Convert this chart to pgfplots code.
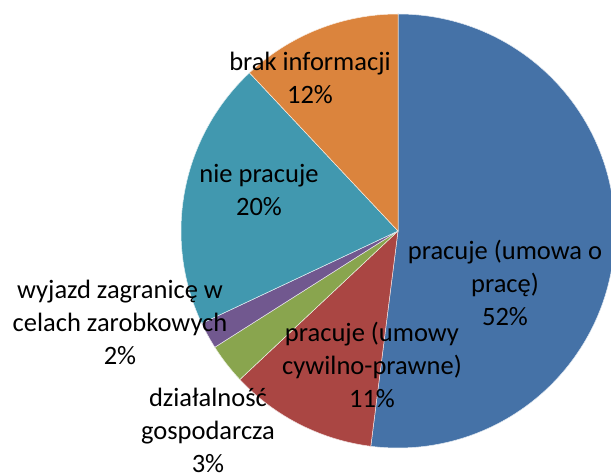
\documentclass[border=0pt]{standalone}
\usepackage{fontspec}
\setmainfont{Carlito}
\usepackage{pgfplots}
\usepackage{pgfplotstable}
\pgfplotsset{compat=1.18}
\definecolor{sblue}{RGB}{69,114,167}
\definecolor{sred}{RGB}{170,70,67}
\definecolor{sgreen}{RGB}{137,165,78}
\definecolor{spurple}{RGB}{113,88,143}
\definecolor{steal}{RGB}{65,152,175}
\definecolor{sorange}{RGB}{219,132,61}

% shares in %, clockwise from 12 o'clock
\pgfplotstableread{
share color
52 sblue
11 sred
3 sgreen
2 spurple
20 steal
12 sorange
}\piedata

\begin{document}
\begin{tikzpicture}
\begin{axis}[
  name=ax,
  x=1pt, y=1pt,
  xmin=0, xmax=611, ymin=0, ymax=476,
  hide axis,
  clip=true,
]
  \pgfplotstablegetrowsof{\piedata}
  \pgfmathtruncatemacro\lastrow{\pgfplotsretval-1}
  \gdef\startangle{90}
  \pgfplotsforeachungrouped \i in {0,...,\lastrow}{%
    \pgfplotstablegetelem{\i}{share}\of\piedata \let\sh\pgfplotsretval
    \pgfplotstablegetelem{\i}{color}\of\piedata \let\col\pgfplotsretval
    \pgfmathsetmacro\endangle{\startangle-3.6*\sh}
    \edef\temp{\noexpand\fill[\col, draw=white!85!\col, line width=0.5pt]
      (axis cs:398,245) -- ++(\startangle:217pt)
      arc[start angle=\startangle, end angle=\endangle, radius=217pt] -- cycle;}
    \temp
    \xdef\startangle{\endangle}
  }

  \tikzset{lbl/.style={align=center, font=\fontsize{26.5}{33}\selectfont, text=black, inner sep=0pt}}
  \node[lbl] at (axis cs:310,398) {brak informacji\\12\%};
  \node[lbl] at (axis cs:259,286) {nie pracuje\\20\%};
  \node[lbl] at (axis cs:505,193) {pracuje (umowa o\\pracę)\\52\%};
  \node[lbl] at (axis cs:372,111) {pracuje (umowy\\cywilno-prawne)\\11\%};
  \node[lbl] at (axis cs:120,154) {wyjazd zagranicę w\\celach zarobkowych\\2\%};
  \node[lbl] at (axis cs:208,46) {działalność\\gospodarcza\\3\%};
\end{axis}
\pgfresetboundingbox
\path (ax.south west) rectangle (ax.north east);
\end{tikzpicture}
\end{document}
